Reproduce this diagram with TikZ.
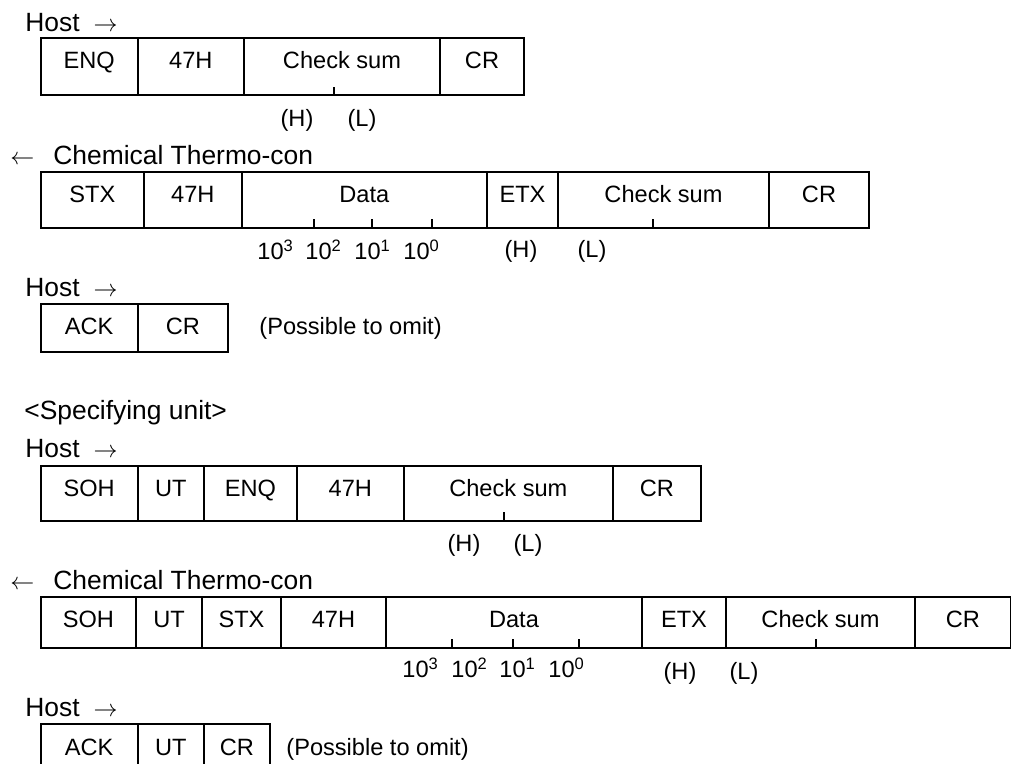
\documentclass[tikz,border=0pt]{standalone}
\usepackage{fontspec}
\setmainfont{Liberation Sans}
\begin{document}
\begin{tikzpicture}[x=0.5pt,y=-0.5pt,
  box/.style={line width=0.85pt},
  tickline/.style={line width=0.55pt},
  txt/.style={inner sep=0pt,anchor=base,font=\fontsize{11.8}{14}\selectfont},
  lbl/.style={inner sep=0pt,anchor=base west,font=\fontsize{11.8}{14}\selectfont},
  head/.style={inner sep=0pt,anchor=base west,font=\fontsize{13.2}{16}\selectfont},
  arr/.style={inner sep=0pt,anchor=base,font=\fontsize{13.2}{16}\selectfont}]
\clip (0,0) rectangle (1013,764);
% ---------------- Block 1
\node[head] (h1) at (25,31.5) {Host};
\node[arr] (a1) at (105.5,31.5) {$\rightarrow$};
\draw[box] (40.7,37.7) rectangle (524,95);
\foreach \x in {137.7,244,440} \draw[box] (\x,37.7) -- (\x,95);
\node[txt] (b1c1) at (89.2,68.7) {ENQ};
\node[txt] (b1c2) at (190.85,68.7) {47H};
\node[txt] (b1c3) at (342,68.7) {Check sum};
\node[txt] (b1c4) at (482,68.7) {CR};
\draw[tickline] (334,95) -- (334,87);
\node[txt] (b1h) at (297,127) {(H)};
\node[txt] (b1l) at (362,127) {(L)};
% ---------------- Block 2
\node[arr] (a2) at (22.5,165) {$\leftarrow$};
\node[head] (c2) at (53,165) {Chemical Thermo-con};
\draw[box] (40.7,171.7) rectangle (869,227.7);
\foreach \x in {144,241.7,487,558,769} \draw[box] (\x,171.7) -- (\x,227.7);
\node[txt] (b2c1) at (92.35,202.7) {STX};
\node[txt] (b2c2) at (192.85,202.7) {47H};
\node[txt] (b2c3) at (364.35,202.7) {Data};
\node[txt] (b2c4) at (522.5,202.7) {ETX};
\node[txt] (b2c5) at (663.5,202.7) {Check sum};
\node[txt] (b2c6) at (819,202.7) {CR};
\foreach \x in {314,372,432,653} \draw[tickline] (\x,227.7) -- (\x,219);
\node[lbl] (b2d3) at (257,260) {10\textsuperscript{3}};
\node[lbl] (b2d2) at (305,260) {10\textsuperscript{2}};
\node[lbl] (b2d1) at (354,260) {10\textsuperscript{1}};
\node[lbl] (b2d0) at (403,260) {10\textsuperscript{0}};
\node[txt] (b2h) at (521,258) {(H)};
\node[txt] (b2l) at (592,258) {(L)};
% ---------------- Block 3
\node[head] (h3) at (25,297) {Host};
\node[arr] (a3) at (105.5,297) {$\rightarrow$};
\draw[box] (40.7,304) rectangle (228,352);
\draw[box] (137.7,304) -- (137.7,352);
\node[txt] (b3c1) at (89.2,335) {ACK};
\node[txt] (b3c2) at (182.85,335) {CR};
\node[lbl] (b3o) at (259,335) {(Possible to omit)};
% ---------------- Block 4
\node[head] (spec) at (24,420) {<Specifying unit>};
\node[head] (h4) at (25,458) {Host};
\node[arr] (a4) at (105.5,458) {$\rightarrow$};
\draw[box] (40.7,466) rectangle (701,520.7);
\foreach \x in {137.7,204,296.7,404,612.7} \draw[box] (\x,466) -- (\x,520.7);
\node[txt] (b4c1) at (89.2,497) {SOH};
\node[txt] (b4c2) at (170.85,497) {UT};
\node[txt] (b4c3) at (250.35,497) {ENQ};
\node[txt] (b4c4) at (350.35,497) {47H};
\node[txt] (b4c5) at (508.35,497) {Check sum};
\node[txt] (b4c6) at (656.85,497) {CR};
\draw[tickline] (504,520.7) -- (504,512);
\node[txt] (b4h) at (464,552) {(H)};
\node[txt] (b4l) at (528,552) {(L)};
% ---------------- Block 5
\node[arr] (a5) at (22.5,590) {$\leftarrow$};
\node[head] (c5) at (53,590) {Chemical Thermo-con};
\draw[box] (40.7,596.7) rectangle (1010.6,648);
\foreach \x in {136,202,281,386,642,726,915} \draw[box] (\x,596.7) -- (\x,648);
\node[txt] (b5c1) at (88.35,627.7) {SOH};
\node[txt] (b5c2) at (169,627.7) {UT};
\node[txt] (b5c3) at (241.5,627.7) {STX};
\node[txt] (b5c4) at (333.5,627.7) {47H};
\node[txt] (b5c5) at (514,627.7) {Data};
\node[txt] (b5c6) at (684,627.7) {ETX};
\node[txt] (b5c7) at (820.5,627.7) {Check sum};
\node[txt] (b5c8) at (962.8,627.7) {CR};
\foreach \x in {452,513,579,816} \draw[tickline] (\x,648) -- (\x,639.3);
\node[lbl] (b5d3) at (402,678) {10\textsuperscript{3}};
\node[lbl] (b5d2) at (451,678) {10\textsuperscript{2}};
\node[lbl] (b5d1) at (499,678) {10\textsuperscript{1}};
\node[lbl] (b5d0) at (548,678) {10\textsuperscript{0}};
\node[txt] (b5h) at (680,680) {(H)};
\node[txt] (b5l) at (744,680) {(L)};
% ---------------- Block 6
\node[head] (h6) at (25,717) {Host};
\node[arr] (a6) at (105.5,717) {$\rightarrow$};
\draw[box] (40.7,724) rectangle (270,772);
\foreach \x in {137.7,204} \draw[box] (\x,724) -- (\x,772);
\node[txt] (b6c1) at (89.2,755) {ACK};
\node[txt] (b6c2) at (170.85,755) {UT};
\node[txt] (b6c3) at (237,755) {CR};
\node[lbl] (b6o) at (286,755) {(Possible to omit)};
\end{tikzpicture}
\end{document}
